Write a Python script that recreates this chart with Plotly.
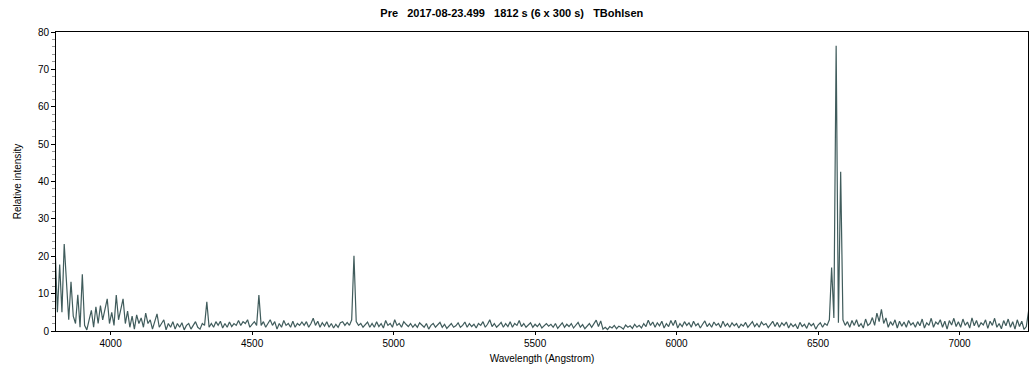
import numpy as np
import plotly.graph_objects as go

# Spectrum values sampled every 8 Angstrom starting at 3804 A (blocks of 10 samples = 80 A)
b00 = [22, 5, 17.8, 5, 23.3, 12.8, 3, 13.2, 4, 2]
b01 = [9.7, 1, 15.2, 1.5, 0.3, 3, 5.5, 1, 6.5, 2]
b02 = [6.8, 3, 6, 8.6, 2, 5, 1.5, 9.6, 3, 6]
b03 = [8.6, 2, 5.3, 1, 4, 0.5, 4.3, 2, 3.5, 1]
b04 = [4.8, 2, 3, 0.5, 2.5, 4.6, 1, 2, 3, 0.3]
b05 = [2, 1, 2.5, 0.5, 2, 1, 2.2, 0.3, 1.5, 2]
b06 = [0.5, 1.5, 2.5, 1, 0.5, 2, 1.5, 7.8, 1, 2]
b07 = [1, 2.5, 1.5, 2.6, 0.8, 2, 1, 2.4, 1.2, 2]
b08 = [1.5, 2.8, 1.5, 2.5, 2, 3, 1, 1.8, 2.5, 1.5]
b09 = [9.6, 1.5, 2.5, 1, 2, 3, 1.5, 2.5, 0.5, 2]
b10 = [1, 2.8, 1.5, 2, 1, 2.6, 1, 2, 1.5, 2.4]
b11 = [1.5, 2.5, 1, 2, 3.4, 1.5, 2.6, 1, 2.2, 1.3]
b12 = [2.5, 1, 2, 0.8, 1.8, 1, 2.2, 2.5, 1.5, 2.3]
b13 = [1.5, 3, 20.1, 2.5, 1.5, 2, 1, 1.8, 2.4, 1]
b14 = [2, 1, 2.5, 1.2, 2, 0.8, 2.8, 1.5, 2, 1]
b15 = [3, 1.5, 2, 1, 2.5, 1.8, 1.2, 2, 1, 1.8]
b16 = [1, 2.2, 1.5, 1, 2, 0.5, 1.5, 2, 1, 1.6]
b17 = [2.3, 1, 1.8, 0.7, 1.5, 2, 1, 1.4, 2.2, 1]
b18 = [1.5, 2.4, 1, 2, 1.2, 1.8, 0.8, 2, 1.5, 2.5]
b19 = [1, 1.8, 3, 1.2, 2, 1, 1.6, 2.3, 1, 2]
b20 = [1.2, 2.5, 1, 2, 1.5, 2.8, 1.2, 2, 1, 1.6]
b21 = [2.2, 1, 1.8, 1.2, 2, 0.8, 1.5, 2, 1.3, 1.8]
b22 = [1, 2, 0.7, 1.6, 2.2, 1, 1.8, 1.2, 2, 0.8]
b23 = [1.5, 2.3, 1, 1.7, 0.6, 1.4, 2, 1, 1.8, 2.9]
b24 = [1.2, 2.7, 0.5, 1, 0.4, 1.2, 0.8, 1.5, 0.6, 1.3]
b25 = [1, 0.5, 1.6, 1, 1.4, 0.7, 1.8, 1, 1.5, 0.8]
b26 = [2, 1.2, 2.9, 1.5, 2.4, 1, 2.2, 1.4, 2.6, 0.8]
b27 = [2, 1.2, 2.8, 1.5, 2.9, 0.8, 2, 1.2, 2.5, 1.5]
b28 = [2.2, 1, 2.6, 1.4, 2, 0.8, 1.8, 2.7, 1.2, 2]
b29 = [1, 2.4, 1.5, 2, 0.9, 2.6, 1.3, 2, 1, 2.2]
b30 = [1.4, 2, 0.8, 1.8, 1.3, 2.3, 1, 1.7, 2.5, 1.2]
b31 = [2, 1, 2.4, 1.6, 2, 0.9, 1.8, 2.6, 1.2, 2.3]
b32 = [1, 2.2, 1.5, 2.4, 0.8, 2, 1.2, 1.8, 0.6, 2.3]
b33 = [1.2, 1.8, 0.7, 2.2, 1.4, 2, 0.5, 1.6, 2.2, 1]
b34 = [2, 1.5, 3, 17, 3.5, 76.3, 2.2, 42.6, 3, 1.5]
b35 = [2.5, 1, 2.8, 1.5, 3, 1.2, 2, 0.8, 3.2, 1.5]
b36 = [2, 3.6, 1.5, 4.8, 2.5, 5.8, 2, 3.5, 1, 2.5]
b37 = [1.5, 3, 0.8, 2.6, 1.3, 2.4, 1, 2.8, 1.6, 2.2]
b38 = [1, 2.5, 1.4, 3.2, 0.8, 2.2, 1.5, 3.4, 1, 2.4]
b39 = [1.8, 3, 1, 2.6, 0.5, 2.8, 1.6, 3.4, 1.2, 2.5]
b40 = [1, 3.2, 1.5, 2.4, 0.8, 3.5, 1.4, 2.8, 1, 2.2]
b41 = [1.6, 3, 0.7, 2.6, 1.5, 3.4, 1, 2, 0.6, 2.8]
b42 = [1.4, 3.2, 1, 2.5, 0.5, 3, 1.2, 2.6, 0.4, 1.2]
b43 = [5.3]

blocks = [b00, b01, b02, b03, b04, b05, b06, b07, b08, b09, b10, b11, b12, b13, b14,
          b15, b16, b17, b18, b19, b20, b21, b22, b23, b24, b25, b26, b27, b28, b29,
          b30, b31, b32, b33, b34, b35, b36, b37, b38, b39, b40, b41, b42, b43]
intensity = [v for b in blocks for v in b]
lambda_start = 3804
lambda_step = 8
wavelength = [lambda_start + lambda_step * i for i in range(len(intensity))]

x_ticks = [4000, 4500, 5000, 5500, 6000, 6500, 7000]
y_ticks = [0, 10, 20, 30, 40, 50, 60, 70, 80]

title_text = "\u00a0\u00a0\u00a0".join(["Pre", "2017-08-23.499", "1812 s (6 x 300 s)", "TBohlsen"])

font_family = "Liberation Sans, Arial, sans-serif"

fig = go.Figure()
fig.add_trace(go.Scatter(x=wavelength, y=intensity, mode="lines",
                         line=dict(color="#405c5c", width=1.2), hoverinfo="skip"))

fig.update_layout(
    width=1036, height=367,
    margin=dict(l=56, r=8, t=32, b=36),
    paper_bgcolor="white", plot_bgcolor="white",
    showlegend=False,
    font=dict(family=font_family, size=10, color="#000"),
    title=dict(text="<b>" + title_text + "</b>", x=0.494, xanchor="center",
               y=1 - 13 / 367, yanchor="middle",
               font=dict(family=font_family, size=11, color="#000")),
)
fig.update_xaxes(
    range=[3807, 7242], tickvals=x_ticks, ticktext=[str(t) for t in x_ticks],
    showgrid=False, zeroline=False, showline=True, linecolor="#000", linewidth=1,
    mirror=True, ticks="outside", ticklen=3, tickcolor="#000", automargin=False,
    title=dict(text="Wavelength (Angstrom)", standoff=6, font=dict(size=10)),
)
fig.update_yaxes(
    range=[0, 80], tickvals=y_ticks, showgrid=False, zeroline=False,
    showline=True, linecolor="#000", linewidth=1, mirror=True, automargin=False,
    ticks="outside", ticklen=4, tickcolor="#000",
    minor=dict(dtick=2, ticks="outside", ticklen=3, tickcolor="#999"),
    title=dict(text="Relative intensity", standoff=14, font=dict(size=10)),
)

fig.write_html("out.html")
